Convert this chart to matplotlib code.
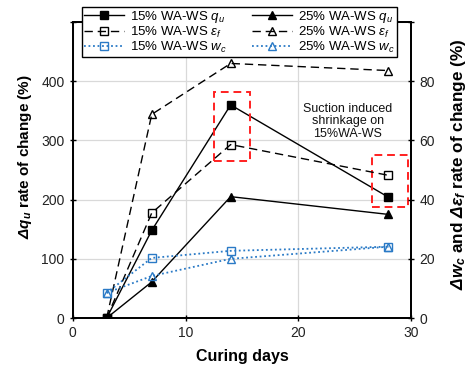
import matplotlib
matplotlib.use("Agg")
import matplotlib.pyplot as plt
from matplotlib.patches import Rectangle

plt.rcParams['font.family'] = ['Liberation Sans', 'DejaVu Sans']
plt.rcParams['mathtext.fontset'] = 'custom'
plt.rcParams['mathtext.rm'] = 'Liberation Sans'
plt.rcParams['mathtext.it'] = 'Liberation Sans:italic'
plt.rcParams['mathtext.bf'] = 'Liberation Sans:bold'
plt.rcParams['mathtext.bfit'] = 'Liberation Sans:italic:bold'

days = [3, 7, 14, 28]
qu15 = [0, 148, 360, 204]
qu25 = [0, 61, 205, 175]
ef15 = [0, 35.5, 58.6, 48.2]
ef25 = [0, 68.8, 86.0, 83.6]
wc15 = [8.5, 20.3, 22.7, 24.1]
wc25 = [8.5, 14.2, 20.0, 24.1]

xticks = [0, 10, 20, 30]
yticks_left = [0, 100, 200, 300, 400, 500]
ylabels_left = ['0', '100', '200', '300', '400', '']
yticks_right = [0, 20, 40, 60, 80, 100]
ylabels_right = ['0', '20', '40', '60', '80', '']

blue = '#2A7AC6'

fig = plt.figure(figsize=(4.73, 3.70), dpi=100)
ax = fig.add_axes([0.154, 0.1405, 0.715, 0.80])
ax2 = ax.twinx()

ax.set_xlim(0, 30)
ax.set_ylim(0, 500)
ax2.set_ylim(0, 100)
ax.set_xticks(xticks)
ax.set_yticks(yticks_left)
ax.set_yticklabels(ylabels_left)
ax2.set_yticks(yticks_right)
ax2.set_yticklabels(ylabels_right)

ax.grid(True, color='#d9d9d9', lw=0.9)
ax.set_axisbelow(True)

for a in (ax, ax2):
    for s in a.spines.values():
        s.set_linewidth(1.3)
    a.tick_params(direction='inout', length=5, width=1.0, labelsize=10, colors='black')
    a.tick_params(axis='y', labelcolor='#222222')
ax.tick_params(axis='x', labelcolor='#222222')

dash = (0, (6, 3.5))
ms = 6.3
h1, = ax.plot(days, qu15, color='black', lw=1.0, marker='s', ms=ms, mfc='black', mec='black',
              label='15% WA-WS $q_u$')
h4, = ax.plot(days, qu25, color='black', lw=1.0, marker='^', ms=ms, mfc='black', mec='black',
              label='25% WA-WS $q_u$')
h2, = ax2.plot(days, ef15, color='black', lw=1.0, ls=dash, marker='s', ms=ms, mfc='none', mec='black',
               mew=1.0, label=r'15% WA-WS $\varepsilon_f$')
h5, = ax2.plot(days, ef25, color='black', lw=1.0, ls=dash, marker='^', ms=ms, mfc='none', mec='black',
               mew=1.0, label=r'25% WA-WS $\varepsilon_f$')
h3, = ax2.plot(days, wc15, color=blue, lw=1.3, ls=(0, (1, 1.5)), marker='s', ms=ms, mfc='none', mec=blue,
               mew=1.0, label='15% WA-WS $w_c$')
h6, = ax2.plot(days, wc25, color=blue, lw=1.3, ls=(0, (1, 1.5)), marker='^', ms=ms, mfc='none', mec=blue,
               mew=1.0, label='25% WA-WS $w_c$')

# red dashed highlight boxes
ax.add_patch(Rectangle((12.55, 266), 3.2, 115, fill=False, ec='#ff2020', lw=1.4, ls=(0, (4, 2.5)), zorder=5))
ax.add_patch(Rectangle((26.5, 188), 3.2, 87, fill=False, ec='#ff2020', lw=1.4, ls=(0, (4, 2.5)), zorder=5))

ax.text(24.4, 332, 'Suction induced\nshrinkage on\n15%WA-WS', ha='center', va='center',
        fontsize=9, linespacing=1.1, color='#111111')

leg = ax2.legend(handles=[h1, h2, h3, h4, h5, h6], ncol=2, loc='upper left',
                 bbox_to_anchor=(0.027, 1.052),
                 frameon=True, fancybox=False, framealpha=1, edgecolor='black',
                 fontsize=9.5, handlelength=3.0, handletextpad=0.5, columnspacing=1.9,
                 labelspacing=0.0, borderpad=0.15, borderaxespad=0, handleheight=0.6)
leg.get_frame().set_linewidth(1.0)
leg.set_zorder(10)

ax.set_xlabel('Curing days', fontsize=11.5, fontweight='bold', labelpad=6)
ax.set_ylabel(r'$\mathbfit{\Delta q_u}$ rate of change (%)', fontsize=11, fontweight='bold')
ax.yaxis.set_label_coords(-0.115, 0.545)
ax2.set_ylabel(r'$\mathbfit{\Delta w_c}$ and $\mathbfit{\Delta \varepsilon_f}$ rate of change (%)',
               fontsize=12.3, fontweight='bold')
ax2.yaxis.set_label_coords(1.113, 0.52)

fig.savefig('out.png', dpi=100)
